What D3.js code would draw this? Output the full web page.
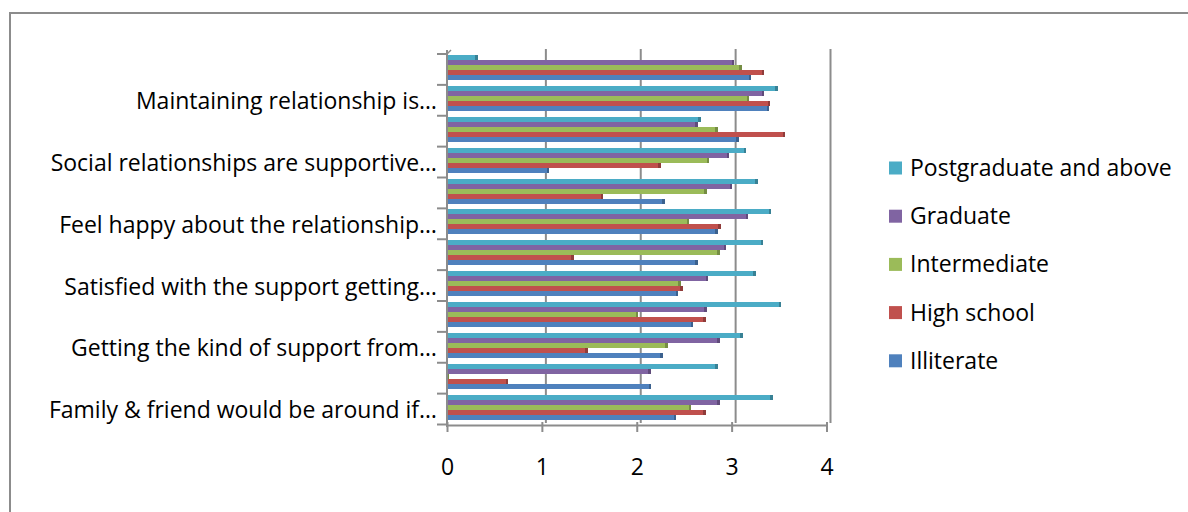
<!DOCTYPE html>
<html><head><meta charset="utf-8">
<script src="https://cdn.jsdelivr.net/npm/d3@7"></script>
<style>
html,body{margin:0;padding:0;background:#fff;}
svg text{font-family:"Open Sans","Noto Sans",sans-serif;fill:#000;}
</style></head>
<body><svg id="c" width="1188" height="512"></svg>
<script>
// Categories, bottom (first) to top (last). Only every other label is shown in the original.
const categories = [
  "Family & friend would be around if…", null,
  "Getting the kind of support from…", null,
  "Satisfied with the support getting…", null,
  "Feel happy about the relationship…", null,
  "Social relationships are supportive…", null,
  "Maintaining relationship is…", null
];
const seriesNames = ["Illiterate","High school","Intermediate","Graduate","Postgraduate and above"];
const illiterate   = [2.41,2.15,2.27,2.59,2.43,2.64,2.85,2.29,1.07,3.07,3.39,3.20];
const highSchool   = [2.72,0.64,1.48,2.72,2.48,1.33,2.88,1.64,2.25,3.56,3.40,3.34];
const intermediate = [2.57,0.02,2.32,2.01,2.46,2.87,2.55,2.73,2.76,2.85,3.18,3.10];
const graduate     = [2.87,2.14,2.87,2.73,2.75,2.94,3.17,3.00,2.97,2.64,3.34,3.02];
const postgrad     = [3.43,2.85,3.11,3.52,3.25,3.33,3.41,3.27,3.15,2.67,3.48,0.32];
const xTicks = [0,1,2,3,4];

const seriesValues = [illiterate, highSchool, intermediate, graduate, postgrad];
const colors = ["#4F81BD","#C0504D","#9BBB59","#8064A2","#4BACC6"];
const FONT = 23;

const svg = d3.select("#c");
const gray = "#8c8c8c";

// outer frame
svg.append("rect").attr("x",10).attr("y",13).attr("width",1200).attr("height",520)
  .attr("fill","none").attr("stroke",gray).attr("stroke-width",2);

const x = d3.scaleLinear().domain([0,4]).range([447,826.5]);
const y = d3.scaleBand().domain(d3.range(categories.length).reverse()).range([54,424.5]).padding(0);
const inner = d3.scaleBand().domain([4,3,2,1,0]).range([1,26]);
const depth = 4;

// back-wall gridlines
svg.append("g").selectAll("line").data(xTicks.slice(1)).join("line")
  .attr("x1",d=>x(d)+depth).attr("x2",d=>x(d)+depth)
  .attr("y1",49).attr("y2",423)
  .attr("stroke",gray).attr("stroke-width",2);

// left wall line
svg.append("line").attr("x1",447).attr("x2",447).attr("y1",50).attr("y2",427)
  .attr("stroke",gray).attr("stroke-width",2);
svg.append("line").attr("x1",447).attr("x2",451).attr("y1",54).attr("y2",50)
  .attr("stroke",gray).attr("stroke-width",1.5);

// left ticks at band boundaries
const bounds = d3.range(categories.length+1).map(i=>54 + i*y.bandwidth());
svg.append("g").selectAll("line").data(bounds).join("line")
  .attr("x1",437).attr("x2",447).attr("y1",d=>d).attr("y2",d=>d)
  .attr("stroke",gray).attr("stroke-width",2);

// bars
const barsG = svg.append("g").attr("shape-rendering","crispEdges");
categories.forEach((c,ci)=>{
  seriesValues.forEach((vals,si)=>{
    const v = vals[ci];
    const y0 = Math.round(y(ci) + inner(si));
    const h = 5;
    const x0 = x(0)+1, x1 = x(v);
    const col = d3.color(colors[si]);
    const w = Math.max(0,x1-x0);
    barsG.append("rect").attr("x",x0).attr("y",y0).attr("width",w).attr("height",h)
      .attr("fill",colors[si]);
    barsG.append("rect").attr("x",Math.max(x0,x1-2)).attr("y",y0).attr("width",Math.min(2.5,w+0.5)).attr("height",h)
      .attr("fill",col.darker(0.8));
  });
});

// floor / bottom axis
const axis = d3.axisBottom(x).tickValues(xTicks).tickSize(10).tickFormat(d3.format("d"));
const ax = svg.append("g").attr("transform","translate(0,422)").call(axis);
ax.select(".domain").remove();
ax.selectAll(".tick line").attr("stroke",gray).attr("stroke-width",2);
ax.selectAll(".tick text").attr("y",45).attr("dy","0.35em").style("font-size",FONT+"px");
svg.append("line").attr("x1",447).attr("x2",827).attr("y1",425.5).attr("y2",425.5)
  .attr("stroke",gray).attr("stroke-width",2);

// category labels
svg.append("g").selectAll("text").data(categories.map((c,i)=>({c,i})).filter(d=>d.c)).join("text")
  .attr("x",437).attr("y",d=>y(d.i)+y.bandwidth()/2+1).attr("dy","0.35em")
  .attr("text-anchor","end").style("font-size",FONT+"px").text(d=>d.c);

// legend
const legendOrder = [4,3,2,1,0];
const lg = svg.append("g");
legendOrder.forEach((si,k)=>{
  const cy = 168 + k*48.2;
  lg.append("rect").attr("x",889).attr("y",cy-6.5).attr("width",13).attr("height",13).attr("fill",colors[si]);
  lg.append("text").attr("x",910).attr("y",cy).attr("dy","0.35em").style("font-size",FONT+"px").text(seriesNames[si]);
});
</script></body></html>
